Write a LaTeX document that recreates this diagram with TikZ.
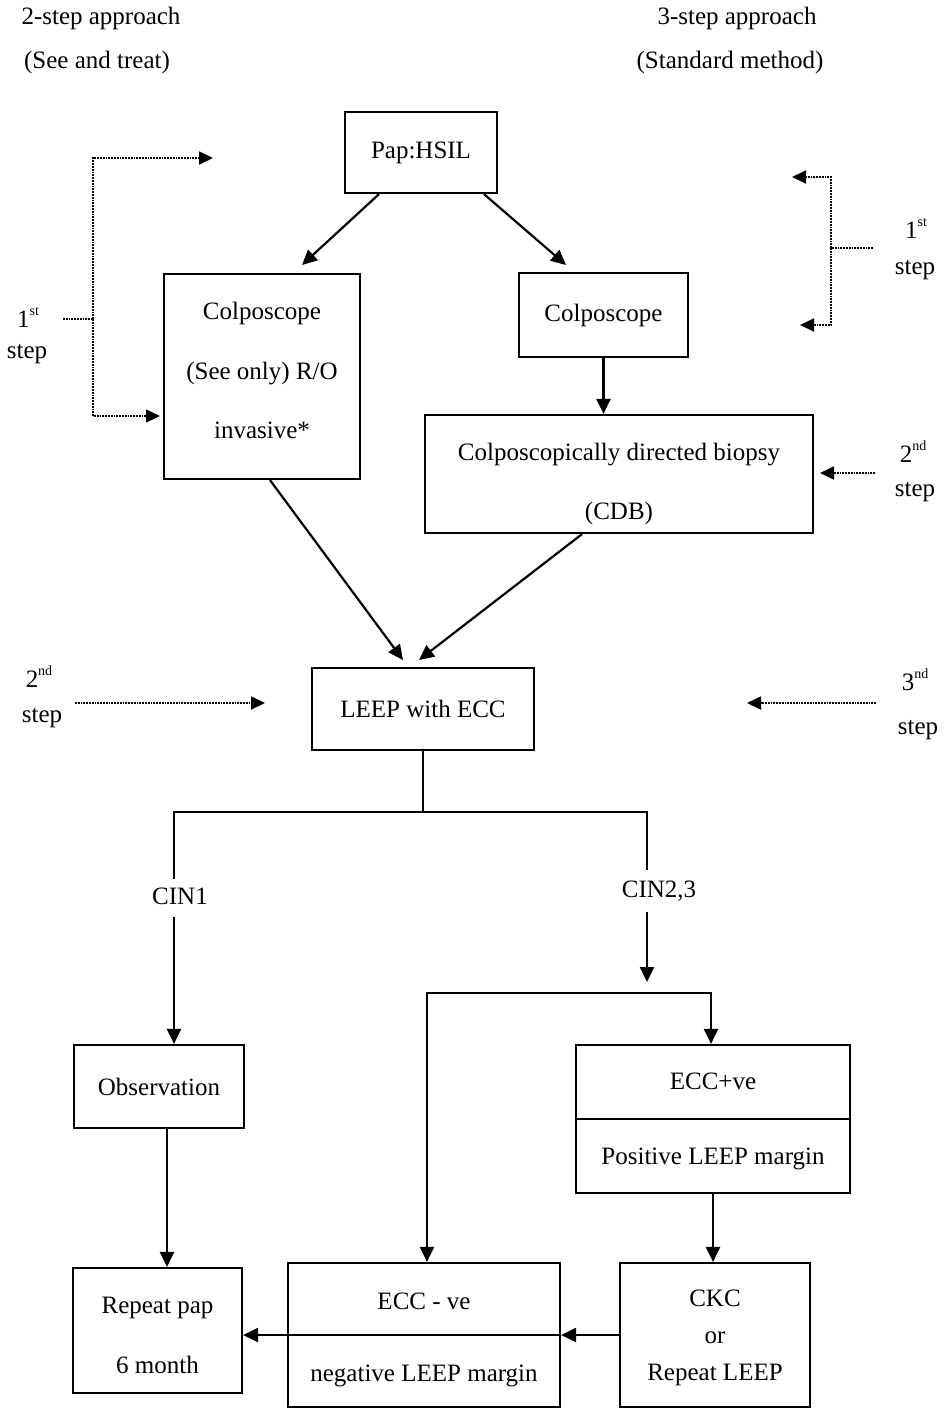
\documentclass[tikz,border=0pt]{standalone}
\usepackage{fontspec}
\setmainfont{Liberation Serif}
\usetikzlibrary{arrows.meta,calc}
\newcommand{\sups}[1]{\raisebox{12pt}{\fontsize{14}{14}\selectfont #1}}
\begin{document}
\begin{tikzpicture}[x=1pt,y=-1pt,
  every node/.style={font=\fontsize{25}{30}\selectfont},
  box/.style={draw,line width=2.2pt,inner sep=0pt},
  txt/.style={inner sep=0pt,text height=17pt,text depth=5pt},
  ln/.style={line width=2.2pt},
  arr/.style={line width=2.2pt,-{Triangle[length=15pt,width=14pt]}},
  arrtwo/.style={line width=2.2pt,{Triangle[length=15pt,width=14pt]}-{Triangle[length=15pt,width=14pt]}},
  dotln/.style={line width=1.8pt,densely dotted},
  dotarr/.style={dotln,-{Triangle[length=14pt,width=13pt]}}
]
\fill[white] (0,0) rectangle (944,1410);
\path[use as bounding box] (0,0) rectangle (944,1410);

% headers
\node[txt] (h2a) at (101,19) {2-step approach};
\node[txt] (h2b) at (97,63) {(See and treat)};
\node[txt] (h3a) at (737,19) {3-step approach};
\node[txt] (h3b) at (730,63) {(Standard method)};

% boxes
\node[box,minimum width=152pt,minimum height=81pt] (pap) at (421,152.5) {Pap:HSIL};
\node[box,minimum width=196pt,minimum height=205pt] (colL) at (262,376.5) {};
\node[txt] (colLa) at (262,313) {Colposcope};
\node[txt] (colLb) at (262,373) {(See only) R/O};
\node[txt] (colLc) at (262,432) {invasive*};
\node[box,minimum width=169pt,minimum height=84pt] (colR) at (603.5,315) {Colposcope};
\node[box,minimum width=388pt,minimum height=118pt] (cdb) at (619,474) {};
\node[txt] (cdba) at (619,454) {Colposcopically directed biopsy};
\node[txt] (cdbb) at (619,513) {(CDB)};
\node[box,minimum width=222pt,minimum height=82pt] (leep) at (423,709) {LEEP with ECC};
\node[box,minimum width=170pt,minimum height=83pt] (obs) at (159,1086.5) {Observation};
\node[box,minimum width=274pt,minimum height=148pt] (eccp) at (713,1119) {};
\node[txt] (eccpa) at (713,1083) {ECC+ve};
\node[txt] (eccpb) at (713,1158) {Positive LEEP margin};
\node[box,minimum width=169pt,minimum height=125pt] (rpap) at (157.5,1330.5) {};
\node[txt] (rpapa) at (157.5,1307) {Repeat pap};
\node[txt] (rpapb) at (157.5,1367) {6 month};
\node[box,minimum width=272pt,minimum height=144pt] (eccn) at (424,1335) {};
\node[txt] (eccna) at (424,1303) {ECC - ve};
\node[txt] (eccnb) at (424,1375) {negative LEEP margin};
\node[box,minimum width=190pt,minimum height=144pt] (ckc) at (715,1335) {};
\node[txt] (ckca) at (715,1300) {CKC};
\node[txt] (ckcb) at (715,1337) {or};
\node[txt] (ckcc) at (715,1374) {Repeat LEEP};

% branch labels
\node[txt,inner ysep=8pt] (cin1) at (180,898) {CIN1};
\node[txt,inner ysep=10pt] (cin23) at (659,891) {CIN2,3};

% step labels
\node[txt] (l1a) at (28,321) {1\sups{st}};
\node[txt] (l1b) at (27,352) {step};
\node[txt] (r1a) at (916,232) {1\sups{st}};
\node[txt] (r1b) at (915,268) {step};
\node[txt] (r2a) at (913,456) {2\sups{nd}};
\node[txt] (r2b) at (915,490) {step};
\node[txt] (l2a) at (39,681) {2\sups{nd}};
\node[txt] (l2b) at (42,716) {step};
\node[txt] (r3a) at (915,684) {3\sups{nd}};
\node[txt] (r3b) at (918,728) {step};

% coordinates
\coordinate (pl) at (302,265);
\coordinate (pr) at (566,265);
\coordinate (ll) at (403,660);
\coordinate (lr) at (419,660);
\coordinate (sp) at (423,812);
\coordinate (cL) at (174,812);
\coordinate (cR) at (647,812);
\coordinate (hb) at (647,982);
\coordinate (hl) at (427,993);
\coordinate (hr) at (711,993);

% solid connectors
\draw[arr] ($(pap.south)+(-42,0)$) -- (pl);
\draw[arr] ($(pap.south)+(63,0)$) -- (pr);
\draw[arr] (colR.south) -- (colR.south |- cdb.north);
\draw[arr] ($(colL.south)+(8,0)$) -- (ll);
\draw[arr] ($(cdb.south)+(-37,0)$) -- (lr);
\draw[ln] (leep.south) -- (sp);
\draw[ln] (cL |- cin1.north) -- (cL) -- (cR) -- (cR |- cin23.north);
\draw[arr] (cL |- cin1.south) -- (cL |- obs.north);
\draw[arr] (cR |- cin23.south) -- (hb);
\draw[arrtwo] (hl |- eccn.north) -- (hl) -- (hr) -- (hr |- eccp.north);
\draw[arr] ([xshift=8pt]obs.south) -- ([xshift=8pt]obs.south |- rpap.north);
\draw[arr] (eccp.south) -- (eccp.south |- ckc.north);
\draw[ln] (eccp.west) -- (eccp.east);
\draw[ln] (eccn.west) -- (eccn.east);
\draw[arr] (ckc.west) -- (eccn.east);
\draw[arr] (eccn.west) -- (eccn.west -| rpap.east);

% dotted step markers
\coordinate (d1s) at (63,319);
\coordinate (d1m) at (93,319);
\coordinate (d1t) at (213,158);
\coordinate (d1b) at (160,416);
\draw[dotln] (d1s) -- (d1m);
\draw[dotarr] (d1m) |- (d1t);
\draw[dotarr] (d1m) |- (d1b);
\coordinate (r1s) at (873,248);
\coordinate (r1m) at (831,248);
\coordinate (r1t) at (792,177);
\coordinate (r1b) at (800,325);
\draw[dotln] (r1s) -- (r1m);
\draw[dotarr] (r1m) |- (r1t);
\draw[dotarr] (r1m) |- (r1b);
\coordinate (r2s) at (875,473);
\coordinate (r2e) at (820,473);
\draw[dotarr] (r2s) -- (r2e);
\coordinate (l2s) at (75,703);
\coordinate (l2e) at (265,703);
\draw[dotarr] (l2s) -- (l2e);
\coordinate (r3s) at (876,703);
\coordinate (r3e) at (747,703);
\draw[dotarr] (r3s) -- (r3e);
\end{tikzpicture}
\end{document}
